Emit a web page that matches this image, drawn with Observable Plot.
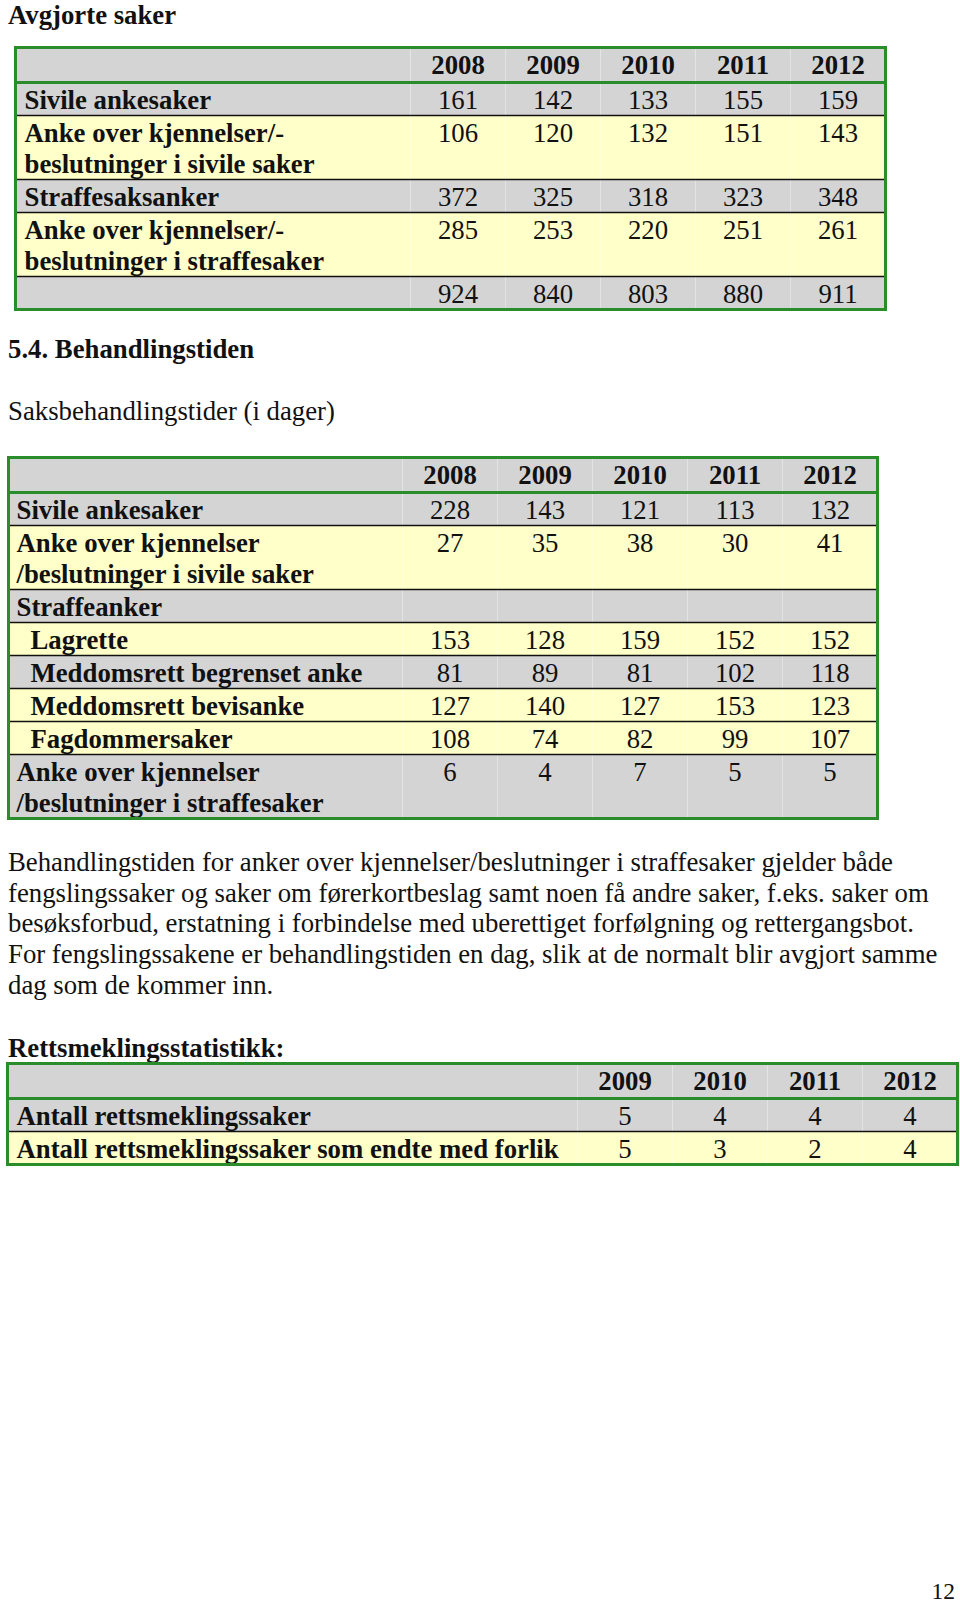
<!DOCTYPE html>
<html><head><meta charset="utf-8">
<script src="https://cdn.jsdelivr.net/npm/d3@7"></script>
<script src="https://cdn.jsdelivr.net/npm/@observablehq/plot@0.6"></script>
<style>
html,body{margin:0;padding:0;background:#fff;}
#page{position:relative;width:960px;height:1605px;overflow:hidden;font-family:"Liberation Serif","Times New Roman",serif;color:#111;background:#fff;}
.t{position:absolute;white-space:pre;margin:0;}
.b{font-weight:bold;}
</style></head><body><div id="page"></div>
<script>
// ---------- DATA ----------
const title1 = "Avgjorte saker";
const years1 = ["2008", "2009", "2010", "2011", "2012"];
const labels1 = [
  "Sivile ankesaker",
  "Anke over kjennelser/-\nbeslutninger i sivile saker",
  "Straffesaksanker",
  "Anke over kjennelser/-\nbeslutninger i straffesaker",
  ""
];
const t1Sivile = [161, 142, 133, 155, 159];
const t1AnkeSivile = [106, 120, 132, 151, 143];
const t1Straffe = [372, 325, 318, 323, 348];
const t1AnkeStraffe = [285, 253, 220, 251, 261];
const t1Total = [924, 840, 803, 880, 911];

const heading2 = "5.4. Behandlingstiden";
const subtitle2 = "Saksbehandlingstider (i dager)";
const years2 = ["2008", "2009", "2010", "2011", "2012"];
const labels2 = [
  "Sivile ankesaker",
  "Anke over kjennelser\n/beslutninger i sivile saker",
  "Straffeanker",
  "Lagrette",
  "Meddomsrett begrenset anke",
  "Meddomsrett bevisanke",
  "Fagdommersaker",
  "Anke over kjennelser\n/beslutninger i straffesaker"
];
const t2Sivile = [228, 143, 121, 113, 132];
const t2AnkeSivile = [27, 35, 38, 30, 41];
const t2Straffeanker = [];
const t2Lagrette = [153, 128, 159, 152, 152];
const t2MedBegrenset = [81, 89, 81, 102, 118];
const t2MedBevis = [127, 140, 127, 153, 123];
const t2Fagdommer = [108, 74, 82, 99, 107];
const t2AnkeStraffe = [6, 4, 7, 5, 5];

const paragraph = [
  "Behandlingstiden for anker over kjennelser/beslutninger i straffesaker gjelder både",
  "fengslingssaker og saker om førerkortbeslag samt noen få andre saker, f.eks. saker om",
  "besøksforbud, erstatning i forbindelse med uberettiget forfølgning og rettergangsbot.",
  "For fengslingssakene er behandlingstiden en dag, slik at de normalt blir avgjort samme",
  "dag som de kommer inn."
];

const heading3 = "Rettsmeklingsstatistikk:";
const years3 = ["2009", "2010", "2011", "2012"];
const labels3 = ["Antall rettsmeklingssaker", "Antall rettsmeklingssaker som endte med forlik"];
const t3Antall = [5, 4, 4, 4];
const t3Forlik = [5, 3, 2, 4];

const pageNumber = "12";

// ---------- STYLE ----------
const GRAY = "#d4d4d4", YELLOW = "#ffffc9", GREEN = "#2a8c2a", INK = "#111";
const FONT = "Liberation Serif, Times New Roman, serif";
const FS = 26.75;
const page = document.getElementById("page");

function addText(str, x, baseline, fs, lh, bold, align) {
  const el = document.createElement("div");
  el.className = "t" + (bold ? " b" : "");
  el.textContent = str;
  el.style.fontSize = fs + "px";
  el.style.lineHeight = lh + "px";
  el.style.top = (baseline - ((lh - 1.107 * fs) / 2 + 0.891 * fs)) + "px";
  if (align === "right") el.style.right = (960 - x) + "px";
  else el.style.left = x + "px";
  page.appendChild(el);
}

function table({years, labels, values, shade, indent, left, top, width, pad, indentPad}) {
  const colW = 95, LH = 31, RPAD = 2, HEAD = 35, BASE = 26, M = 2;
  const n = years.length;
  const labelUnits = width / colW - n;
  const rows = [{top: 0, h: HEAD, shade: "g"}];
  let y = HEAD;
  labels.forEach((lab, i) => {
    const lines = lab.split("\n");
    const h = lines.length * LH + RPAD;
    rows.push({top: y, h, shade: shade[i], lines, vals: values[i], indent: indent ? indent[i] : 0});
    y += h;
  });
  const H = y;
  const headText = years.map((yr, j) => ({x: j + 0.5, y: BASE, text: yr}));
  const labelText = [], valText = [];
  rows.slice(1).forEach(r => {
    r.lines.forEach((ln, k) => {
      if (ln) labelText.push({x: -labelUnits + (r.indent ? indentPad : pad) / colW, y: r.top + BASE + k * LH, text: ln});
    });
    r.vals.forEach((v, j) => valText.push({x: j + 0.5, y: r.top + BASE, text: String(v)}));
  });
  const seps = rows.slice(2).map(r => r.top);
  const svg = Plot.plot({
    width: width + 2 * M,
    height: H + 2 * M,
    margin: M,
    x: {domain: [-labelUnits, n]},
    y: {domain: [0, H], reverse: true},
    axis: null,
    style: {background: "transparent", overflow: "visible"},
    marks: [
      Plot.rect(rows, {x1: -labelUnits, x2: n, y1: d => d.top, y2: d => d.top + d.h,
        fill: d => d.shade === "g" ? GRAY : YELLOW}),
      Plot.ruleX(d3.range(n), {x: d => d, y1: 0, y2: H, stroke: "#fff", strokeOpacity: 0.35, strokeWidth: 1}),
      Plot.ruleY(seps, {y: d => d, x1: -labelUnits, x2: n, stroke: "#111", strokeWidth: 1.5}),
      Plot.ruleY([HEAD], {y: d => d, x1: -labelUnits, x2: n, stroke: GREEN, strokeWidth: 3}),
      Plot.text(headText, {x: "x", y: "y", text: "text", textAnchor: "middle", lineAnchor: "bottom",
        fontFamily: FONT, fontSize: FS, fontWeight: "bold", fill: INK}),
      Plot.text(labelText, {x: "x", y: "y", text: "text", textAnchor: "start", lineAnchor: "bottom",
        fontFamily: FONT, fontSize: FS, fontWeight: "bold", fill: INK}),
      Plot.text(valText, {x: "x", y: "y", text: "text", textAnchor: "middle", lineAnchor: "bottom",
        fontFamily: FONT, fontSize: FS, fill: INK}),
      Plot.frame({stroke: GREEN, strokeWidth: 3})
    ]
  });
  svg.style.position = "absolute";
  svg.style.left = (left - M) + "px";
  svg.style.top = (top - M) + "px";
  page.appendChild(svg);
}

// ---------- LAYOUT ----------
addText(title1, 8, 24, FS, 20, true);
table({
  years: years1, labels: labels1,
  values: [t1Sivile, t1AnkeSivile, t1Straffe, t1AnkeStraffe, t1Total],
  shade: ["g", "y", "g", "y", "g"],
  left: 15, top: 47, width: 870, pad: 9, indentPad: 9
});
addText(heading2, 8, 359, FS, 31, true);
addText(subtitle2, 8, 421, FS, 31, false);
table({
  years: years2, labels: labels2,
  values: [t2Sivile, t2AnkeSivile, t2Straffeanker, t2Lagrette, t2MedBegrenset, t2MedBevis, t2Fagdommer, t2AnkeStraffe],
  shade: ["g", "y", "g", "y", "g", "y", "y", "g"],
  indent: [0, 0, 0, 1, 1, 1, 1, 0],
  left: 8, top: 457, width: 869, pad: 8, indentPad: 22
});
paragraph.forEach((ln, i) => addText(ln, 8, 871 + i * 30.7, FS, 30, false));
addText(heading3, 8, 1058, FS, 31, true);
table({
  years: years3, labels: labels3,
  values: [t3Antall, t3Forlik],
  shade: ["g", "y"],
  left: 7, top: 1063, width: 950, pad: 9, indentPad: 9
});
addText(pageNumber, 955, 1599, 23.5, 20, false, "right");
</script></body></html>
